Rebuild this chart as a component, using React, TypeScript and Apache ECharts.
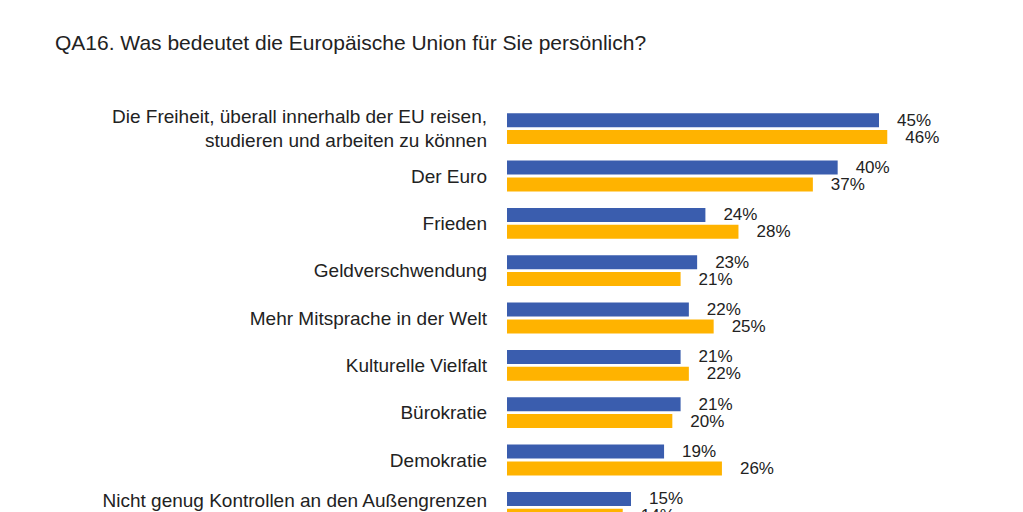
import React, { useEffect, useRef } from "react";
import * as echarts from "echarts";

const categories = [
  "Die Freiheit, überall innerhalb der EU reisen,\nstudieren und arbeiten zu können",
  "Der Euro",
  "Frieden",
  "Geldverschwendung",
  "Mehr Mitsprache in der Welt",
  "Kulturelle Vielfalt",
  "Bürokratie",
  "Demokratie",
  "Nicht genug Kontrollen an den Außengrenzen",
];
const seriesA = [45, 40, 24, 23, 22, 21, 21, 19, 15];
const seriesB = [46, 37, 28, 21, 25, 22, 20, 26, 14];
const seriesNames = ["EU28", "DE"];
const titleText = "QA16. Was bedeutet die Europäische Union für Sie persönlich?";

const FONT = "'Liberation Sans', Arial, sans-serif";

export default function App() {
  const ref = useRef<HTMLDivElement>(null);
  useEffect(() => {
    document.body.style.margin = "0";
    const chart = echarts.init(ref.current!, null, { renderer: "svg" });
    const label = {
      show: true,
      position: "right",
      distance: 18,
      formatter: "{c}%",
      color: "#222",
      fontSize: 17,
      fontFamily: FONT,
    };
    chart.setOption({
      animation: false,
      backgroundColor: "#fff",
      title: {
        text: titleText,
        left: 50,
        top: 27,
        textStyle: { fontSize: 21, fontWeight: "normal", color: "#222", fontFamily: FONT },
      },
      grid: {
        left: 507,
        width: 496,
        top: 105,
        height: 426,
        containLabel: false,
        outerBoundsMode: "none",
      },
      xAxis: { type: "value", min: 0, max: 60, show: false },
      yAxis: {
        type: "category",
        data: categories,
        inverse: true,
        axisLine: { show: false },
        axisTick: { show: false },
        axisLabel: {
          margin: 20,
          color: "#222",
          fontSize: 19,
          lineHeight: 24,
          fontFamily: FONT,
          align: "right",
          formatter: (v: string, i: number) =>
            i === categories.length - 1 ? `{a|${v}}\n{b| }` : v,
          rich: {
            a: { fontSize: 19, lineHeight: 24, color: "#222", fontFamily: FONT },
            b: { fontSize: 10, lineHeight: 14 },
          },
        },
      },
      series: [
        {
          name: seriesNames[0],
          type: "bar",
          data: seriesA,
          barWidth: 14,
          barGap: "20%",
          itemStyle: { color: "#3A5DAE" },
          label,
        },
        {
          name: seriesNames[1],
          type: "bar",
          data: seriesB,
          barWidth: 14,
          barGap: "20%",
          itemStyle: { color: "#FFB300" },
          label,
        },
      ],
    });
    return () => chart.dispose();
  }, []);
  return <div ref={ref} style={{ width: 1023, height: 512 }} />;
}
